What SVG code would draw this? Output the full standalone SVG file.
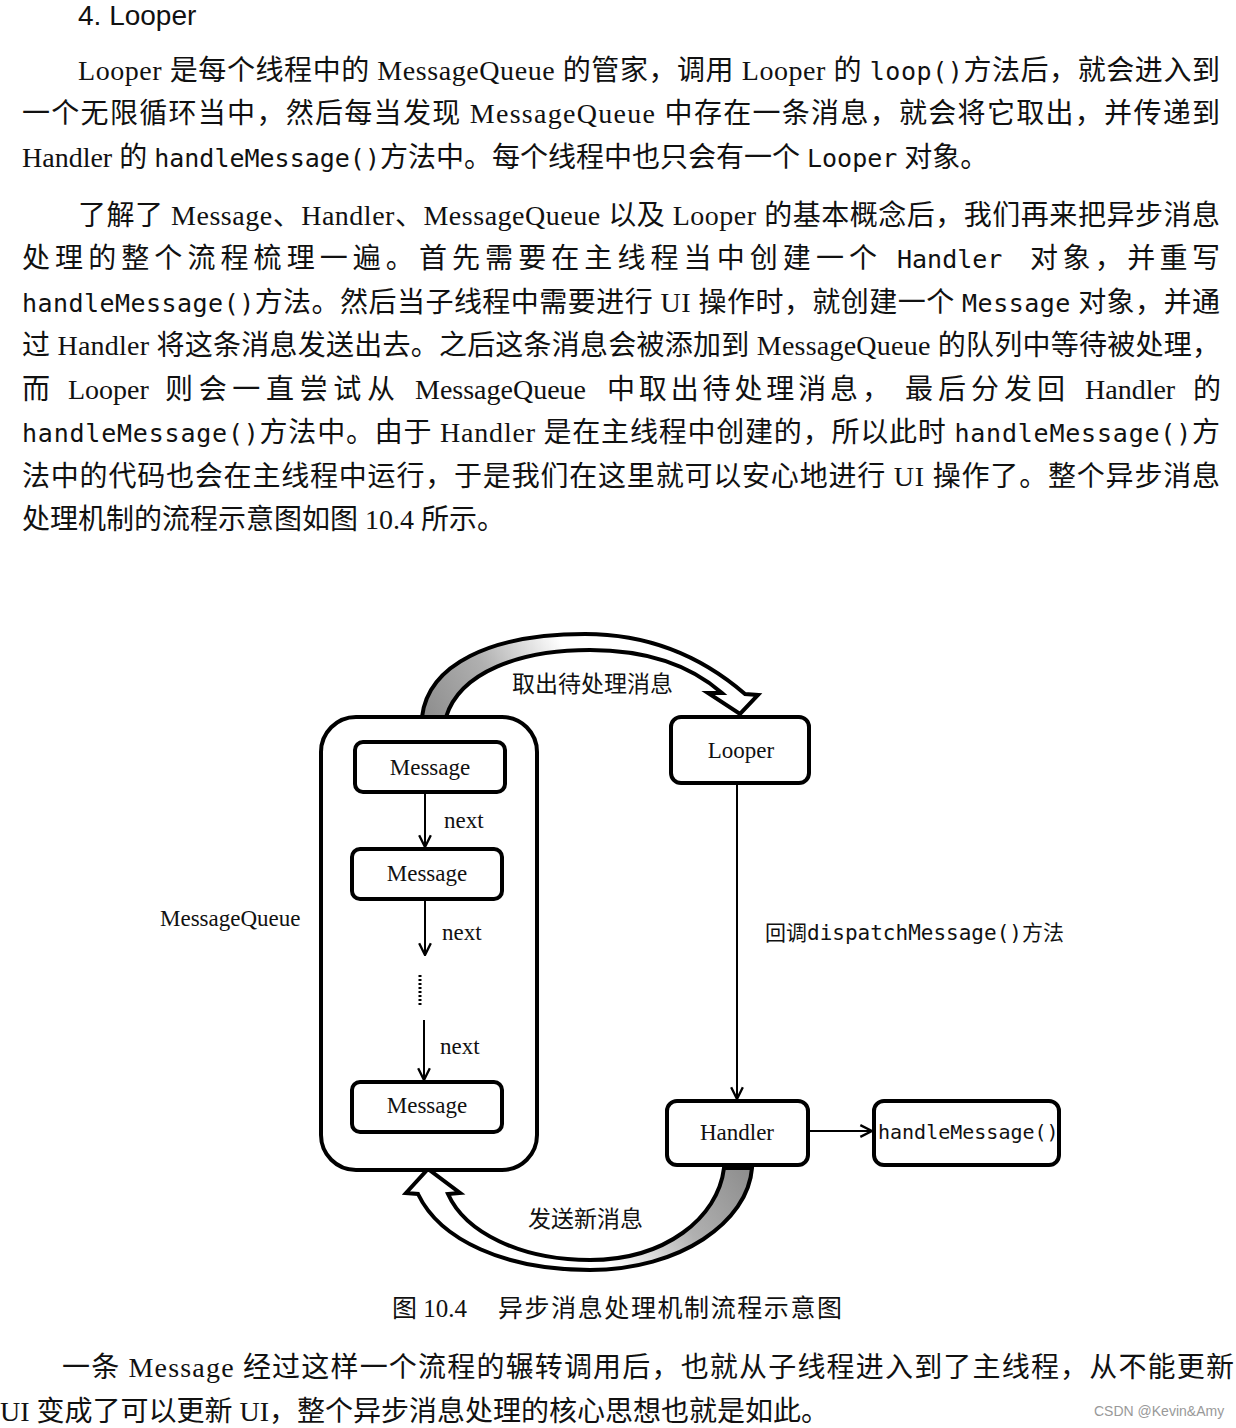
<svg xmlns="http://www.w3.org/2000/svg" width="1236" height="1428" viewBox="0 0 1236 1428">
<style>
.body{font-family:"Liberation Serif","Noto Sans CJK SC",serif;font-size:28px;fill:#111}
.mono{font-family:"DejaVu Sans Mono","Noto Sans CJK SC",monospace;font-size:25px}
.lbl{font-family:"Liberation Serif","Noto Sans CJK SC",serif;font-size:23px;fill:#111}
.cjk{font-family:"Noto Sans CJK SC",sans-serif;font-size:23px;fill:#111}
.dmono{font-family:"DejaVu Sans Mono","Noto Sans CJK SC",monospace;font-size:20px;fill:#111}
.box{fill:#fff;stroke:#000;stroke-width:4}
.conn{stroke:#000;stroke-width:2;fill:none}
.band{stroke:#000;stroke-width:4;stroke-linejoin:miter}
</style>
<defs>
<marker id="vhead" viewBox="0 0 12 12" refX="11" refY="6" markerWidth="14" markerHeight="14" markerUnits="userSpaceOnUse" orient="auto">
<path d="M1,1 L11,6 L1,11" fill="none" stroke="#000" stroke-width="2"/>
</marker>
<linearGradient id="gTop" gradientUnits="userSpaceOnUse" x1="422" y1="717" x2="560" y2="640">
<stop offset="0" stop-color="#8c8c8c"/><stop offset="0.5" stop-color="#b0b0b0"/><stop offset="1" stop-color="#fff"/>
</linearGradient>
<linearGradient id="gBot" gradientUnits="userSpaceOnUse" x1="752" y1="1168" x2="610" y2="1265">
<stop offset="0" stop-color="#8c8c8c"/><stop offset="0.5" stop-color="#b0b0b0"/><stop offset="1" stop-color="#fff"/>
</linearGradient>
</defs>
<rect width="1236" height="1428" fill="#fff"/>

<g id="text-top">
<text x="78" y="25" style="font-family:'Liberation Sans',sans-serif;font-size:28px;fill:#111">4. Looper</text>
<text class="body" x="78" y="80" textLength="1142" lengthAdjust="spacing">Looper 是每个线程中的 MessageQueue 的管家，调用 Looper 的 <tspan class="mono">loop()</tspan>方法后，就会进入到</text>
<text class="body" x="22" y="123" textLength="1198" lengthAdjust="spacing">一个无限循环当中，然后每当发现 MessageQueue 中存在一条消息，就会将它取出，并传递到</text>
<text class="body" x="22" y="167">Handler 的 <tspan class="mono">handleMessage()</tspan>方法中。每个线程中也只会有一个 <tspan class="mono">Looper</tspan> 对象。</text>
<text class="body" x="78" y="225" textLength="1142" lengthAdjust="spacing">了解了 Message、Handler、MessageQueue 以及 Looper 的基本概念后，我们再来把异步消息</text>
<text class="body" x="22" y="268" textLength="855" lengthAdjust="spacing">处理的整个流程梳理一遍。首先需要在主线程当中创建一个</text>
<text class="body mono" x="897" y="268">Handler</text>
<text class="body" x="1030" y="268" textLength="190" lengthAdjust="spacing">对象，并重写</text>
<text class="body" x="22" y="312" textLength="1198" lengthAdjust="spacing"><tspan class="mono">handleMessage()</tspan>方法。然后当子线程中需要进行 UI 操作时，就创建一个 <tspan class="mono">Message</tspan> 对象，并通</text>
<text class="body" x="22" y="355" textLength="1198" lengthAdjust="spacing">过 Handler 将这条消息发送出去。之后这条消息会被添加到 MessageQueue 的队列中等待被处理，</text>
<text class="body" x="22" y="399">而</text>
<text class="body" x="68" y="399">Looper</text>
<text class="body" x="165" y="399" textLength="230" lengthAdjust="spacing">则会一直尝试从</text>
<text class="body" x="415" y="399">MessageQueue</text>
<text class="body" x="607" y="399" textLength="283" lengthAdjust="spacing">中取出待处理消息，</text>
<text class="body" x="905" y="399" textLength="160" lengthAdjust="spacing">最后分发回</text>
<text class="body" x="1085" y="399">Handler</text>
<text class="body" x="1193" y="399">的</text>
<text class="body" x="22" y="442" textLength="1198" lengthAdjust="spacing"><tspan class="mono">handleMessage()</tspan>方法中。由于 Handler 是在主线程中创建的，所以此时 <tspan class="mono">handleMessage()</tspan>方</text>
<text class="body" x="22" y="486" textLength="1198" lengthAdjust="spacing">法中的代码也会在主线程中运行，于是我们在这里就可以安心地进行 UI 操作了。整个异步消息</text>
<text class="body" x="22" y="529">处理机制的流程示意图如图 10.4 所示。</text>
</g>

<g id="arrows-curved">
<path id="arrow-top" class="band" fill="url(#gTop)" d="M422,717 C428,665 490,634 585,634 C655,634 708,662 745,694 L758,695 L740,714 L708,693 L722,693 C690,665 645,650 590,650 C520,650 460,672 446,717 Z"/>
<path id="arrow-bottom" class="band" fill="url(#gBot)" d="M752,1168 C748,1222 680,1270 590,1270 C505,1270 440,1240 418,1194 L406,1193 L428,1169 L460,1193 L448,1194 C465,1232 520,1260 590,1260 C665,1260 718,1218 724,1168 Z"/>
</g>

<g id="MessageQueue">
<rect class="box" x="321" y="717" width="216" height="453" rx="35"/>
<text class="lbl" x="160" y="926">MessageQueue</text>
</g>
<g id="message1">
<rect class="box" x="355" y="742" width="150" height="50" rx="8"/>
<text class="lbl" x="430" y="775" text-anchor="middle">Message</text>
</g>
<g id="message2">
<rect class="box" x="352" y="849" width="150" height="50" rx="8"/>
<text class="lbl" x="427" y="881" text-anchor="middle">Message</text>
</g>
<g id="message3">
<rect class="box" x="352" y="1082" width="150" height="50" rx="8"/>
<text class="lbl" x="427" y="1113" text-anchor="middle">Message</text>
</g>
<g id="looper">
<rect class="box" x="671" y="717" width="138" height="66" rx="10"/>
<text class="lbl" x="741" y="758" text-anchor="middle">Looper</text>
</g>
<g id="handler">
<rect class="box" x="667" y="1101" width="141" height="64" rx="10"/>
<text class="lbl" x="737" y="1140" text-anchor="middle">Handler</text>
</g>
<g id="handleMessage">
<rect class="box" x="874" y="1101" width="185" height="64" rx="10"/>
<text class="dmono" x="878" y="1139">handleMessage()</text>
</g>

<g id="connectors">
<line class="conn" x1="425" y1="794" x2="425" y2="847" marker-end="url(#vhead)"/>
<line class="conn" x1="425" y1="901" x2="425" y2="955" marker-end="url(#vhead)"/>
<line x1="420" y1="975" x2="420" y2="1006" stroke="#000" stroke-width="3" stroke-dasharray="2,2"/>
<line class="conn" x1="424" y1="1020" x2="424" y2="1080" marker-end="url(#vhead)"/>
<line class="conn" x1="737" y1="785" x2="737" y2="1099" marker-end="url(#vhead)"/>
<line class="conn" x1="810" y1="1131" x2="872" y2="1131" marker-end="url(#vhead)"/>
<text class="lbl" x="444" y="828">next</text>
<text class="lbl" x="442" y="940">next</text>
<text class="lbl" x="440" y="1054">next</text>
<text class="cjk" x="765" y="940" style="font-size:21px">回调<tspan class="dmono" style="font-size:21px">dispatchMessage()</tspan>方法</text>
<text class="cjk" x="512" y="692">取出待处理消息</text>
<text class="cjk" x="528" y="1227">发送新消息</text>
</g>

<g id="caption">
<text class="body" x="392" y="1317" style="font-size:25px">图 10.4</text>
<text class="body" x="498" y="1317" style="font-size:25px" textLength="344" lengthAdjust="spacing">异步消息处理机制流程示意图</text>
</g>

<g id="text-bottom">
<text class="body" x="62" y="1377" textLength="1172" lengthAdjust="spacing">一条 Message 经过这样一个流程的辗转调用后，也就从子线程进入到了主线程，从不能更新</text>
<text class="body" x="0" y="1421">UI 变成了可以更新 UI，整个异步消息处理的核心思想也就是如此。</text>
<text x="1094" y="1416" style="font-family:'Liberation Sans',sans-serif;font-size:14px;fill:#999">CSDN @Kevin&amp;Amy</text>
</g>
</svg>
